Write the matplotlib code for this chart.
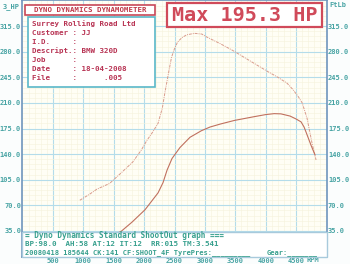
import matplotlib
matplotlib.use("Agg")
import matplotlib.pyplot as plt
from matplotlib.patches import Rectangle
from matplotlib.ticker import MultipleLocator

# ---- data ----
torque_rpm = [943, 1100, 1221, 1434, 1631, 1811, 1950, 2048, 2140, 2229, 2300, 2344,
              2400, 2450, 2500, 2550, 2620, 2700, 2830, 2950, 3030, 3250, 3450, 3650,
              3850, 4050, 4200, 4350, 4450, 4540, 4600, 4680, 4762, 4828]
torque_ftlb = [77, 85, 92, 100, 115, 129, 145, 159, 170, 182, 203, 225,
               250, 272, 284, 293, 299, 303, 305, 304, 300, 291, 282, 272,
               262, 252, 245, 237, 228, 218, 210, 189, 155, 132]

power_rpm = [950, 1200, 1450, 1630, 1800, 2015, 2229, 2311, 2377, 2459, 2590, 2755,
             2943, 3084, 3250, 3484, 3800, 4000, 4139, 4250, 4400, 4500, 4582, 4631,
             4664, 4746, 4811]
power_hp = [14, 18, 27, 35, 47, 64, 87, 101, 118, 134, 149, 163,
            172, 177, 181, 186, 191, 194, 195.3, 195, 192, 188, 184, 177,
            170, 152, 139]

x_ticks = [500, 1000, 1500, 2000, 2500, 3000, 3500, 4000, 4500]
y_ticks = [35, 70, 105, 140, 175, 210, 245, 280, 315]
y_tick_labels = ["35.0", "70.0", "105.0", "140.0", "175.0", "210.0", "245.0", "280.0", "315.0"]

info_lines = ["Surrey Rolling Road Ltd",
              "Customer : JJ",
              "I.D.     :",
              "Descript.: BMW 320D",
              "Job      :",
              "Date     : 18-04-2008",
              "File     :      .005"]
footer_lines = ["= Dyno Dynamics Standard ShootOut graph ===",
                "BP:98.0  AH:58 AT:12 IT:12  RR:015 TM:3.541",
                "20080418 185644 CK:141 CF:SHOOT_4F TyrePres:_________"]
footer_gear = "Gear:_______"
max_text = "Max 195.3 HP"
title_text = "DYNO DYNAMICS DYNAMOMETER"

W, H = 350, 264
fig = plt.figure(figsize=(W / 100, H / 100), dpi=100, facecolor="#fbfdfd")

def fx(px):
    return px / W

def fy(py):
    return 1 - py / H

ax_l, ax_r, ax_t, ax_b = 22.5, 326.5, 0.4, 256.6
ax = fig.add_axes([fx(ax_l), fy(ax_b), fx(ax_r - ax_l), (ax_b - ax_t) / H])
ax.set_facecolor("#fffef5")
ax.set_xlim(0, 5000)
ax.set_ylim(0, 350)

teal = "#48a4a4"
mono = "DejaVu Sans Mono"

ax.xaxis.set_minor_locator(MultipleLocator(100))
ax.yaxis.set_minor_locator(MultipleLocator(7))
ax.grid(which="minor", color="#f6f3dc", lw=0.4)
ax.grid(which="major", color="#b4dcea", lw=0.8)
ax.set_axisbelow(True)

ax.set_xticks(x_ticks)
ax.set_xticklabels([str(v) for v in x_ticks], family=mono, fontsize=5, color=teal,
                   fontweight="bold")
ax.set_yticks(y_ticks)
ax.set_yticklabels(y_tick_labels, family=mono, fontsize=5, color=teal, fontweight="bold")
ax.tick_params(which="both", length=0, pad=1.5)
ax.tick_params(axis="y", labelright=True, pad=1)
ax.tick_params(axis="x", pad=1)
for s in ax.spines.values():
    s.set_color("#6f95bd")
    s.set_linewidth(1.2)

ax.plot(torque_rpm, torque_ftlb, color="#d99a8a", lw=0.7, linestyle=(0, (3, 1, 1, 1)), zorder=3)
ax.plot(power_rpm, power_hp, color="#c0705e", lw=0.8, zorder=3)

# axis unit labels
fig.text(fx(11), fy(7), "3_HP", family=mono, fontsize=5, color=teal, fontweight="bold",
         ha="center", va="center")
fig.text(fx(338), fy(5), "FtLb", family=mono, fontsize=5, color=teal, fontweight="bold",
         ha="center", va="center")
fig.text(fx(313), fy(259.5), "RPM", family=mono, fontsize=5, color=teal, fontweight="bold",
         ha="center", va="center")

def box(x0, y0, x1, y1, ec, lw, fc="white"):
    fig.patches.append(Rectangle((fx(x0), fy(y1)), fx(x1 - x0), (y1 - y0) / H,
                                 transform=fig.transFigure, fc=fc, ec=ec, lw=lw, zorder=5))

# title box
box(25, 5, 155, 15, "#c84858", 1.2)
fig.text(fx(90), fy(10.3), title_text, family=mono, fontsize=5.3, color="#c03848",
         ha="center", va="center", fontweight="bold", zorder=6)

# info box
box(28, 17, 155, 87, "#5ab8c8", 1.2)
ys = [24, 33, 42, 51, 60, 69, 78.5]
for line, y in zip(info_lines, ys):
    fig.text(fx(32), fy(y), line, family=mono, fontsize=5.4, color="#b83454",
             ha="left", va="center", fontweight="bold", zorder=6)

# max box
box(167, 3, 322, 27, "#d04a5a", 1.6)
fig.text(fx(244.5), fy(15.5), max_text, family=mono, fontsize=14.5, color="#d04a5a",
         ha="center", va="center", fontweight="bold", zorder=6)

# footer box
box(22.5, 232, 326.5, 256.6, "#a8cadc", 1.0)
fys = [236, 244.5, 252.5]
fsz = [5.6, 5.4, 5.0]
for line, y, s in zip(footer_lines, fys, fsz):
    fig.text(fx(24.5), fy(y), line, family=mono, fontsize=s, color="#38a08e",
             ha="left", va="center", fontweight="bold", zorder=6)
fig.text(fx(267), fy(252.5), footer_gear, family=mono, fontsize=5.0, color="#38a08e",
         ha="left", va="center", fontweight="bold", zorder=6)

fig.savefig("out.png", dpi=100, facecolor=fig.get_facecolor())
